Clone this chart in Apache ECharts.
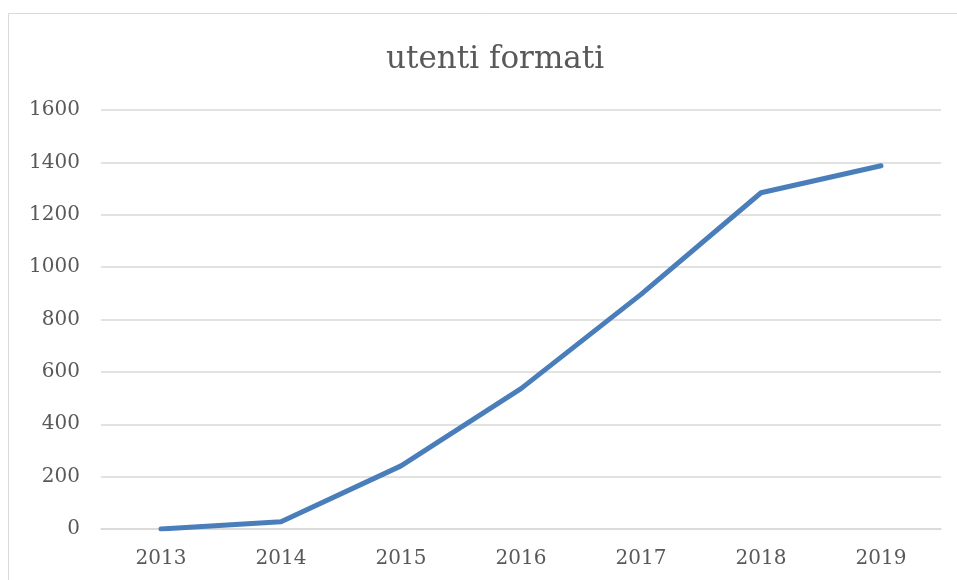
<!DOCTYPE html>
<html>
<head>
<meta charset="utf-8">
<script src="https://cdn.jsdelivr.net/npm/echarts@6/dist/echarts.min.js"></script>
<style>
  html, body { margin: 0; padding: 0; background: #fff; }
  #chart { width: 957px; height: 580px; }
</style>
</head>
<body>
<div id="chart"></div>
<script>
const years = ['2013', '2014', '2015', '2016', '2017', '2018', '2019'];
const utenti = [0, 28, 241, 536, 896, 1284, 1387];

const chart = echarts.init(document.getElementById('chart'));
const font = 'DejaVu Serif';

chart.setOption({
  animation: false,
  backgroundColor: '#fff',
  graphic: [{
    type: 'rect',
    shape: { x: 8.5, y: 13.5, width: 1000, height: 1000 },
    style: { fill: null, stroke: '#d9d9d9', lineWidth: 1 },
    silent: true
  }],
  title: {
    text: 'utenti formati',
    left: 381,
    top: 39,
    textStyle: { fontFamily: font, fontSize: 31, fontWeight: 'normal', color: '#595959' }
  },
  grid: { left: 101, right: 16, top: 110, bottom: 51 },
  xAxis: {
    type: 'category',
    data: years,
    axisLine: { lineStyle: { color: '#d9d9d9', width: 1.5 } },
    axisTick: { show: false },
    axisLabel: { fontFamily: font, fontSize: 20, color: '#595959', margin: 20 }
  },
  yAxis: {
    type: 'value',
    min: 0,
    max: 1600,
    interval: 200,
    axisLine: { show: false },
    axisTick: { show: false },
    splitLine: { lineStyle: { color: '#d9d9d9', width: 1.5 } },
    axisLabel: {
      fontFamily: font, fontSize: 20, color: '#595959', margin: 21,
      formatter: v => String(v)
    }
  },
  series: [{
    type: 'line',
    data: utenti,
    symbol: 'none',
    lineStyle: { color: '#4a7ebb', width: 5, cap: 'round', join: 'round' }
  }]
});
</script>
</body>
</html>
